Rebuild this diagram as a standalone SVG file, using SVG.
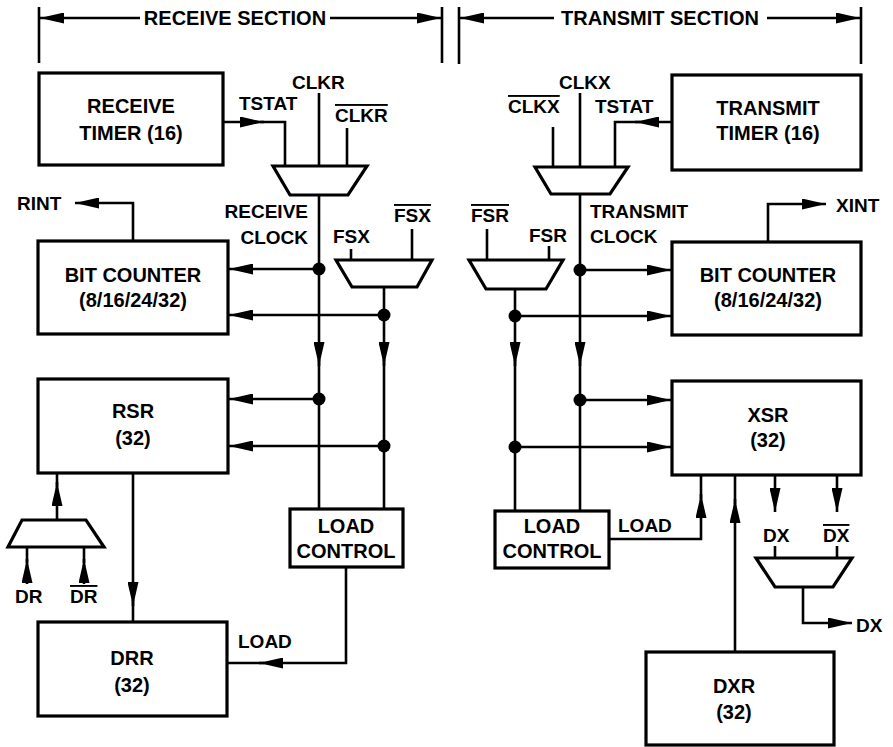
<svg xmlns="http://www.w3.org/2000/svg" width="893" height="747" viewBox="0 0 893 747">
<style>
text{font-family:"Liberation Sans",Arial,sans-serif;font-weight:bold;fill:#000}
.bt{font-size:20px;text-anchor:middle}
.lb{font-size:19px}
.hd{font-size:20px;text-anchor:middle}
.ov{text-decoration:overline}
.box{fill:#fff;stroke:#000;stroke-width:3.2}
.mux{fill:#fff;stroke:#000;stroke-width:3.2;stroke-linejoin:miter}
.w{fill:none;stroke:#000;stroke-width:2.6}
.wa{fill:none;stroke:#000;stroke-width:2.6;marker-end:url(#ah)}
.dot{fill:#000}
</style>
<defs>
<marker id="ah" viewBox="0 0 24 11" refX="24" refY="5.5" markerWidth="24" markerHeight="11" markerUnits="userSpaceOnUse" orient="auto">
<path d="M0,0 L24,5.5 L0,11 Z" fill="#000"/>
</marker>
</defs>
<rect width="893" height="747" fill="#fff"/>

<g id="section-brackets">
<path class="w" d="M39,7 V63 M442,7 V63 M459,7 V64 M861,7 V64"/>
<path class="wa" d="M140,18 H40"/>
<path class="wa" d="M330,18 H441"/>
<path class="wa" d="M554,18 H460"/>
<path class="wa" d="M767,18 H860"/>
<text class="hd" x="235" y="25">RECEIVE SECTION</text>
<text class="hd" x="660" y="25">TRANSMIT SECTION</text>
</g>

<g id="connectors">
<!-- receive side -->
<path class="wa" d="M223,122 H264"/>
<path class="w" d="M260,122 H285 V166"/>
<path class="w" d="M319,93 V166 M347,128 V166"/>
<path class="wa" d="M319,195 V366"/>
<path class="w" d="M319,360 V509"/>
<path class="wa" d="M319,269 H229"/>
<path class="wa" d="M319,399 H229"/>
<path class="w" d="M351,249 V260 M412,229 V260"/>
<path class="wa" d="M384,287 V366"/>
<path class="w" d="M384,360 V509"/>
<path class="wa" d="M384,315 H229"/>
<path class="wa" d="M384,446 H229"/>
<path class="wa" d="M133,241 V203 H75"/>
<path class="wa" d="M133,473 V606"/>
<path class="w" d="M133,600 V622"/>
<path class="wa" d="M57,520 V482"/>
<path class="w" d="M57,487 V473"/>
<path class="wa" d="M27,584 V559"/>
<path class="w" d="M27,563 V547"/>
<path class="wa" d="M84,584 V559"/>
<path class="w" d="M84,563 V547"/>
<path class="wa" d="M346,567 V663 H259"/>
<path class="w" d="M264,663 H227"/>
<!-- transmit side -->
<path class="wa" d="M672,122 H635"/>
<path class="w" d="M640,122 H615 V167"/>
<path class="w" d="M580,93 V167 M553,127 V167"/>
<path class="wa" d="M580,194 V366"/>
<path class="w" d="M580,360 V511"/>
<path class="wa" d="M580,270 H671"/>
<path class="wa" d="M580,400 H671"/>
<path class="w" d="M487,229 V260 M549,246 V260"/>
<path class="wa" d="M515,289 V366"/>
<path class="w" d="M515,360 V511"/>
<path class="wa" d="M515,316 H671"/>
<path class="wa" d="M515,447 H671"/>
<path class="wa" d="M768,242 V204 H826"/>
<path class="wa" d="M609,539 H701 V494"/>
<path class="w" d="M701,499 V475"/>
<path class="wa" d="M735,652 V499"/>
<path class="w" d="M735,504 V475"/>
<path class="wa" d="M775,475 V512"/>
<path class="wa" d="M837,475 V512"/>
<path class="w" d="M775,546 V558 M837,546 V558"/>
<path class="wa" d="M803,587 V623 H852"/>
<circle class="dot" cx="319" cy="269" r="6.5"/>
<circle class="dot" cx="319" cy="399" r="6.5"/>
<circle class="dot" cx="384" cy="315" r="6.5"/>
<circle class="dot" cx="384" cy="446" r="6.5"/>
<circle class="dot" cx="580" cy="270" r="6.5"/>
<circle class="dot" cx="580" cy="400" r="6.5"/>
<circle class="dot" cx="515" cy="316" r="6.5"/>
<circle class="dot" cx="515" cy="447" r="6.5"/>
</g>

<g id="receive-timer">
<rect class="box" x="39" y="73" width="184" height="92"/>
<text class="bt" x="131" y="113">RECEIVE</text>
<text class="bt" x="131" y="140">TIMER (16)</text>
</g>
<g id="transmit-timer">
<rect class="box" x="672" y="75" width="189" height="95"/>
<text class="bt" x="768" y="115">TRANSMIT</text>
<text class="bt" x="768" y="140">TIMER (16)</text>
</g>
<g id="bit-counter-r">
<rect class="box" x="38" y="241" width="190" height="93"/>
<text class="bt" x="133" y="282">BIT COUNTER</text>
<text class="bt" x="133" y="307">(8/16/24/32)</text>
</g>
<g id="bit-counter-x">
<rect class="box" x="672" y="242" width="189" height="93"/>
<text class="bt" x="768" y="282">BIT COUNTER</text>
<text class="bt" x="768" y="307">(8/16/24/32)</text>
</g>
<g id="rsr">
<rect class="box" x="38" y="379" width="190" height="94"/>
<text class="bt" x="133" y="418">RSR</text>
<text class="bt" x="133" y="445">(32)</text>
</g>
<g id="xsr">
<rect class="box" x="672" y="381" width="189" height="94"/>
<text class="bt" x="768" y="422">XSR</text>
<text class="bt" x="768" y="447">(32)</text>
</g>
<g id="drr">
<rect class="box" x="38" y="622" width="189" height="94"/>
<text class="bt" x="132" y="665">DRR</text>
<text class="bt" x="132" y="692">(32)</text>
</g>
<g id="dxr">
<rect class="box" x="646" y="652" width="188" height="93"/>
<text class="bt" x="734" y="693">DXR</text>
<text class="bt" x="734" y="719">(32)</text>
</g>
<g id="load-control-r">
<rect class="box" x="290" y="509" width="113" height="58"/>
<text class="bt" x="346" y="533">LOAD</text>
<text class="bt" x="346" y="558">CONTROL</text>
</g>
<g id="load-control-x">
<rect class="box" x="495" y="511" width="114" height="57"/>
<text class="bt" x="552" y="533">LOAD</text>
<text class="bt" x="552" y="558">CONTROL</text>
</g>
<g id="mux-clkr"><polygon class="mux" points="273,166 367,166 348,195 290,195"/></g>
<g id="mux-fsx"><polygon class="mux" points="336,260 432,260 417,287 352,287"/></g>
<g id="mux-dr"><polygon class="mux" points="22,520 86,520 104,547 8,547"/></g>
<g id="mux-clkx"><polygon class="mux" points="535,167 628,167 610,194 551,194"/></g>
<g id="mux-fsr"><polygon class="mux" points="469,260 563,260 546,289 486,289"/></g>
<g id="mux-dx"><polygon class="mux" points="756,558 852,558 833,587 775,587"/></g>

<g id="labels">
<text class="lb" x="239" y="110">TSTAT</text>
<text class="lb" x="292" y="89">CLKR</text>
<text class="lb ov" x="335" y="122">CLKR</text>
<text class="lb" x="17" y="210">RINT</text>
<text class="lb" x="308" y="218" text-anchor="end">RECEIVE</text>
<text class="lb" x="308" y="244" text-anchor="end">CLOCK</text>
<text class="lb" x="333" y="243">FSX</text>
<text class="lb ov" x="394" y="222">FSX</text>
<text class="lb" x="15" y="603">DR</text>
<text class="lb ov" x="70" y="603">DR</text>
<text class="lb" x="238" y="648">LOAD</text>
<text class="lb ov" x="508" y="113">CLKX</text>
<text class="lb" x="559" y="89">CLKX</text>
<text class="lb" x="595" y="113">TSTAT</text>
<text class="lb ov" x="471" y="222">FSR</text>
<text class="lb" x="529" y="242">FSR</text>
<text class="lb" x="590" y="218">TRANSMIT</text>
<text class="lb" x="590" y="243">CLOCK</text>
<text class="lb" x="836" y="212">XINT</text>
<text class="lb" x="618" y="532">LOAD</text>
<text class="lb" x="763" y="542">DX</text>
<text class="lb ov" x="823" y="542">DX</text>
<text class="lb" x="856" y="632">DX</text>
</g>
</svg>
